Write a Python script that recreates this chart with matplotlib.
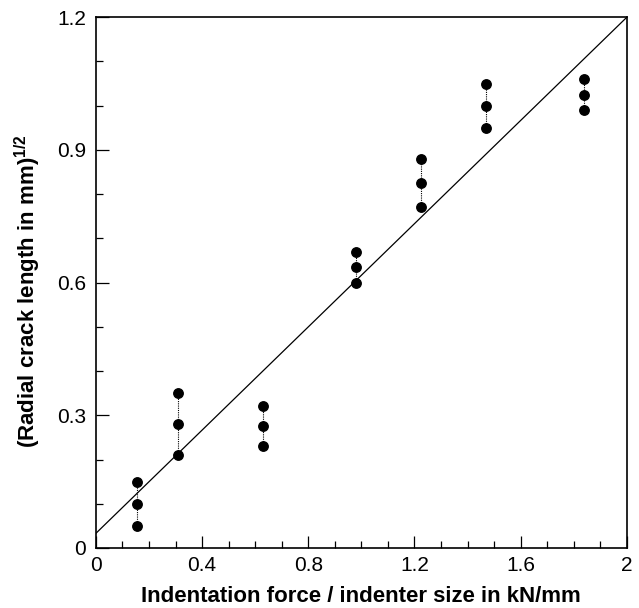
import matplotlib
matplotlib.use("Agg")
import matplotlib.pyplot as plt
from matplotlib.ticker import MultipleLocator, FuncFormatter

x = [0.155, 0.31, 0.63, 0.98, 1.225, 1.47, 1.84]
y_low = [0.05, 0.21, 0.23, 0.60, 0.77, 0.95, 0.99]
y_mid = [0.10, 0.28, 0.275, 0.635, 0.825, 1.00, 1.025]
y_high = [0.15, 0.35, 0.32, 0.67, 0.88, 1.05, 1.06]
fit_x = [0.0, 2.0]
fit_y = [0.033, 1.2]

plt.rcParams['font.family'] = ['Liberation Sans', 'DejaVu Sans']
plt.rcParams['mathtext.fontset'] = 'custom'
plt.rcParams['mathtext.bf'] = 'Liberation Sans:bold'
fig = plt.figure(figsize=(6.39, 6.08), dpi=100)
ax = fig.add_axes([0.150, 0.0987, 0.831, 0.873])

ax.plot(fit_x, fit_y, color='black', lw=0.9)
for xi, lo, hi in zip(x, y_low, y_high):
    ax.plot([xi, xi], [lo, hi], color='black', lw=0.8, ls=(0, (1, 1)))
for ys in (y_low, y_mid, y_high):
    ax.plot(x, ys, 'o', color='black', ms=6.8, ls='none')

ax.set_xlim(0, 2)
ax.set_ylim(0, 1.2)
ax.xaxis.set_major_locator(MultipleLocator(0.4))
ax.xaxis.set_minor_locator(MultipleLocator(0.1))
ax.yaxis.set_major_locator(MultipleLocator(0.3))
ax.yaxis.set_minor_locator(MultipleLocator(0.1))

def fmt(v, pos):
    s = f"{v:.1f}"
    if s.endswith(".0"):
        s = s[:-2]
    return s
ax.xaxis.set_major_formatter(FuncFormatter(fmt))
ax.yaxis.set_major_formatter(FuncFormatter(fmt))

ax.tick_params(which='both', direction='in', top=False, right=False, labelsize=15, width=0.9)
ax.tick_params(which='major', length=9)
ax.tick_params(which='minor', length=5)
ax.tick_params(axis='x', pad=6)
ax.tick_params(axis='y', pad=7)
for sp in ax.spines.values():
    sp.set_linewidth(1.2)

ax.set_xlabel('Indentation force / indenter size in kN/mm', fontsize=16, fontweight='bold')
ax.xaxis.set_label_coords(0.5, -0.072)
ax.set_ylabel(r'(Radial crack length in mm)$^{\mathbf{1/2}}$', fontsize=16, fontweight='bold')
ax.yaxis.set_label_coords(-0.10, 0.483)

fig.savefig('out.png', dpi=100)
